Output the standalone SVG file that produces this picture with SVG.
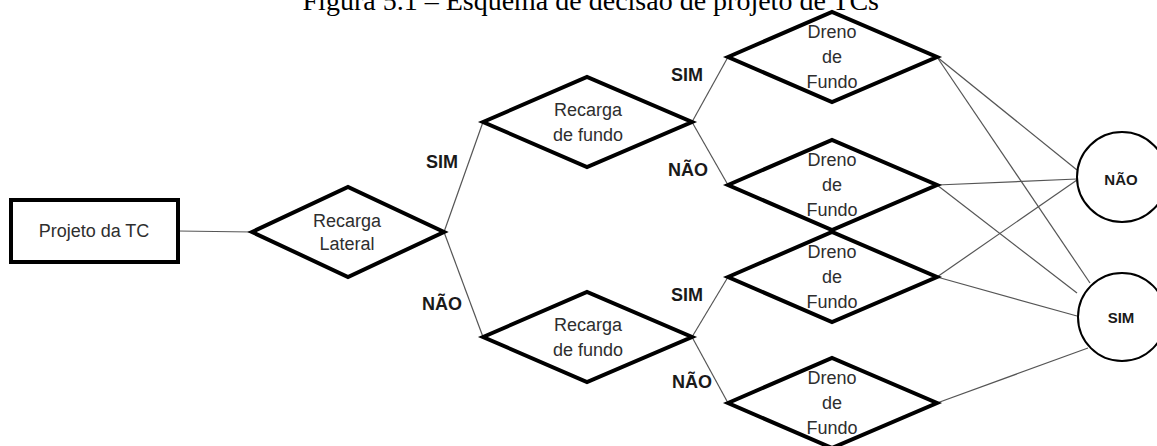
<svg xmlns="http://www.w3.org/2000/svg" width="1157" height="446" viewBox="0 0 1157 446">
  <style>
    .shape { fill: none; stroke: #000; stroke-width: 4; stroke-linejoin: miter; }
    .term { fill: #fff; stroke: #000; stroke-width: 2; }
    .txt { font-family: "Liberation Sans", Arial, sans-serif; font-size: 18px; fill: #2e2e2e; text-anchor: middle; }
    .lbl { font-family: "Liberation Sans", Arial, sans-serif; font-size: 18px; font-weight: bold; fill: #1a1a1a; text-anchor: middle; }
    .tlbl { font-family: "Liberation Sans", Arial, sans-serif; font-size: 15px; font-weight: bold; fill: #1a1a1a; text-anchor: middle; }
    .title { font-family: "Liberation Serif", "Times New Roman", serif; font-size: 28px; fill: #000; text-anchor: end; }
    #connectors line { stroke: #555; stroke-width: 1.2; }
  </style>

  <text class="title" x="879" y="10">Figura 5.1 – Esquema de decisão de projeto de TCs</text>

  <g id="connectors">
    <line x1="178" y1="231" x2="252" y2="232"/>
    <line x1="444" y1="232" x2="483" y2="122"/>
    <line x1="444" y1="232" x2="483" y2="337"/>
    <line x1="692" y1="122" x2="728" y2="57"/>
    <line x1="692" y1="122" x2="728" y2="185"/>
    <line x1="692" y1="337" x2="728" y2="277"/>
    <line x1="692" y1="337" x2="728" y2="403"/>
    <line x1="937" y1="57" x2="1077" y2="170"/>
    <line x1="937" y1="57" x2="1090" y2="283"/>
    <line x1="937" y1="185" x2="1077" y2="179"/>
    <line x1="937" y1="185" x2="1077" y2="293"/>
    <line x1="937" y1="277" x2="1077" y2="180"/>
    <line x1="937" y1="277" x2="1077" y2="316"/>
    <line x1="937" y1="403" x2="1088" y2="348"/>
  </g>

  <g id="edge-labels">
    <text class="lbl" x="442" y="168">SIM</text>
    <text class="lbl" x="442" y="310">NÃO</text>
    <text class="lbl" x="687" y="81">SIM</text>
    <text class="lbl" x="688" y="176">NÃO</text>
    <text class="lbl" x="687" y="301">SIM</text>
    <text class="lbl" x="692" y="388">NÃO</text>
  </g>

  <g id="projeto">
    <rect class="shape" x="11" y="200" width="167" height="62"/>
    <text class="txt" x="94" y="237">Projeto da TC</text>
  </g>

  <g id="recarga-lateral">
    <polygon class="shape" points="252,232 348,187 444,232 348,277"/>
    <text class="txt" x="347" y="227">Recarga</text>
    <text class="txt" x="347" y="250">Lateral</text>
  </g>

  <g id="recarga-fundo-1">
    <polygon class="shape" points="483,122 587,77 692,122 587,167"/>
    <text class="txt" x="588" y="116">Recarga</text>
    <text class="txt" x="588" y="141">de fundo</text>
  </g>

  <g id="recarga-fundo-2">
    <polygon class="shape" points="483,337 587,292 692,337 587,382"/>
    <text class="txt" x="588" y="331">Recarga</text>
    <text class="txt" x="588" y="356">de fundo</text>
  </g>

  <g id="dreno-1">
    <polygon class="shape" points="728,57 832,12 937,57 832,102"/>
    <text class="txt" x="832" y="38">Dreno</text>
    <text class="txt" x="832" y="63">de</text>
    <text class="txt" x="832" y="88">Fundo</text>
  </g>

  <g id="dreno-2">
    <polygon class="shape" points="728,185 832,140 937,185 832,230"/>
    <text class="txt" x="832" y="166">Dreno</text>
    <text class="txt" x="832" y="191">de</text>
    <text class="txt" x="832" y="216">Fundo</text>
  </g>

  <g id="dreno-3">
    <polygon class="shape" points="728,277 832,232 937,277 832,322"/>
    <text class="txt" x="832" y="258">Dreno</text>
    <text class="txt" x="832" y="283">de</text>
    <text class="txt" x="832" y="308">Fundo</text>
  </g>

  <g id="dreno-4">
    <polygon class="shape" points="728,403 832,358 937,403 832,448"/>
    <text class="txt" x="832" y="384">Dreno</text>
    <text class="txt" x="832" y="409">de</text>
    <text class="txt" x="832" y="434">Fundo</text>
  </g>

  <g id="resultado-nao">
    <circle class="term" cx="1122" cy="177" r="45"/>
    <text class="tlbl" x="1121" y="185">NÃO</text>
  </g>

  <g id="resultado-sim">
    <circle class="term" cx="1122" cy="317" r="44"/>
    <text class="tlbl" x="1121" y="323">SIM</text>
  </g>
</svg>
